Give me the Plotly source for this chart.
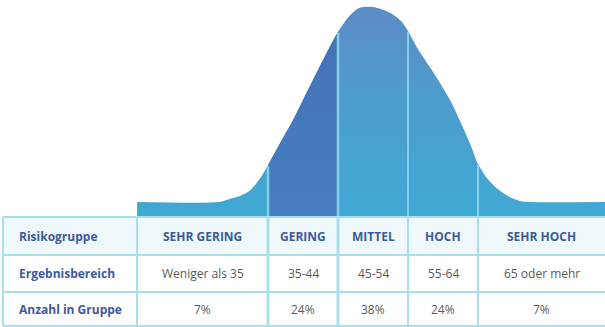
import plotly.graph_objects as go

# ---- data ----
# bell curve: score (T-scale) -> height above the base band (px-like units)
score_x = [16.3, 28, 29.5, 31, 32.5, 34, 35, 36.5, 38.5, 40, 42.5, 44.5, 45, 46.5, 48, 50,
           52.5, 54, 55, 56.5, 58.5, 61, 62.5, 64, 65, 66.5, 68, 69.5, 71, 72.5, 83.15]
curve_h = [0, 0, 3, 6, 12, 25, 37, 56, 81, 102, 137, 164, 170, 185, 194, 195,
           189, 181, 171, 152, 131, 102, 80, 56, 38, 22, 12, 5, 1, 0, 0]

group_names = ["SEHR GERING", "GERING", "MITTEL", "HOCH", "SEHR HOCH"]
score_ranges = ["Weniger als 35", "35-44", "45-54", "55-64", "65 oder mehr"]
group_share = ["7%", "24%", "38%", "24%", "7%"]
row_labels = ["Risikogruppe", "Ergebnisbereich", "Anzahl in Gruppe"]
bounds = [35, 45, 55, 65]

# ---- layout constants ----
X_MIN, X_MAX = -3.2857, 83.1429
Y_MIN, Y_MAX = -125, 202
BAND = -15
TABLE_LEFT = -2.857
COL_START = 16.29
row_lines = [-15, -53, -90, -124]

TITLE_BLUE = "#3d5a9b"
GREY = "#5a5a5a"
GRID = "#a9dfeb"

fig = go.Figure()

# base + light gradient curve
fig.add_trace(go.Scatter(x=[score_x[0], score_x[-1]], y=[BAND, BAND], mode="lines",
                         line=dict(width=0), hoverinfo="skip", showlegend=False))
fig.add_trace(go.Scatter(x=score_x, y=curve_h, mode="lines", line=dict(width=0, shape="spline", smoothing=0.8),
                         fill="tonexty",
                         fillgradient=dict(type="vertical",
                                           colorscale=[[0, "#3fa9d3"], [0.5, "#4c9ecf"], [1, "#5d8cc7"]]),
                         hoverinfo="skip", showlegend=False))

# highlighted (dark) segment
lo, hi = score_x.index(bounds[0]), score_x.index(bounds[1])
fig.add_trace(go.Scatter(x=[bounds[0], bounds[1]], y=[BAND, BAND], mode="lines",
                         line=dict(width=0), hoverinfo="skip", showlegend=False))
fig.add_trace(go.Scatter(x=score_x[lo:hi + 1], y=curve_h[lo:hi + 1], mode="lines",
                         line=dict(width=0, shape="spline", smoothing=0.8), fill="tonexty",
                         fillgradient=dict(type="vertical",
                                           colorscale=[[0, "#467fc2"], [1, "#4672b8"]]),
                         hoverinfo="skip", showlegend=False))

# vertical separators inside the curve
for b in bounds:
    h = curve_h[score_x.index(b)]
    fig.add_trace(go.Scatter(x=[b, b], y=[BAND, h - 1], mode="lines",
                             line=dict(color="#86d0e6", width=2.5 if b in bounds[:2] else 2),
                             hoverinfo="skip", showlegend=False))

shapes = []
# header row background
shapes.append(dict(type="rect", x0=TABLE_LEFT, x1=X_MAX, y0=row_lines[1], y1=row_lines[0],
                   fillcolor="#eff9fc", line=dict(width=0), layer="below"))
# horizontal lines
for yl in row_lines:
    shapes.append(dict(type="line", x0=TABLE_LEFT, x1=X_MAX, y0=yl, y1=yl, line=dict(color=GRID, width=2)))
# vertical lines
col_edges = [TABLE_LEFT, COL_START] + bounds
for xv in col_edges:
    w = 3 if xv in bounds[:2] else 2
    shapes.append(dict(type="line", x0=xv, x1=xv, y0=row_lines[-1], y1=row_lines[0],
                       line=dict(color=GRID, width=w)))
fig.update_layout(shapes=shapes)

# texts
row_y = [(row_lines[i] + row_lines[i + 1]) / 2 for i in range(3)]
annotations = []
for lab, yv in zip(row_labels, row_y):
    annotations.append(dict(x=-0.857, y=yv, text=f"<b>{lab}</b>", xanchor="left", yanchor="middle",
                            showarrow=False, font=dict(family="Open Sans", size=12, color=TITLE_BLUE)))
edges = [COL_START] + bounds + [X_MAX]
for i in range(5):
    cx = (edges[i] + edges[i + 1]) / 2
    annotations.append(dict(x=cx, y=row_y[0], text=f"<b>{group_names[i]}</b>", showarrow=False,
                            xanchor="center", yanchor="middle",
                            font=dict(family="Open Sans", size=12, color=TITLE_BLUE)))
    annotations.append(dict(x=cx, y=row_y[1], text=score_ranges[i], showarrow=False,
                            xanchor="center", yanchor="middle",
                            font=dict(family="Open Sans", size=12, color=GREY)))
    annotations.append(dict(x=cx, y=row_y[2], text=group_share[i], showarrow=False,
                            xanchor="center", yanchor="middle",
                            font=dict(family="Open Sans", size=12, color=GREY)))

fig.update_layout(
    annotations=annotations,
    width=605, height=327,
    margin=dict(l=0, r=0, t=0, b=0),
    paper_bgcolor="white", plot_bgcolor="white",
    xaxis=dict(range=[X_MIN, X_MAX], visible=False, fixedrange=True),
    yaxis=dict(range=[Y_MIN, Y_MAX], visible=False, fixedrange=True),
    showlegend=False,
)

fig.write_html("out.html", config={"displayModeBar": False})
